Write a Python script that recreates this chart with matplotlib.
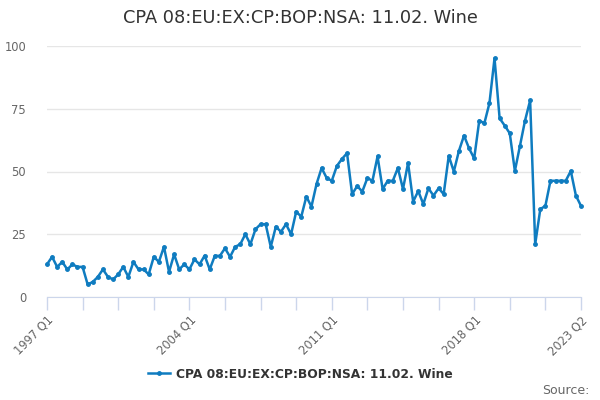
import matplotlib
matplotlib.use("Agg")
import matplotlib.pyplot as plt

# quarterly values, 1997 Q1 .. 2023 Q2
values = [13, 16, 12, 14, 11, 13, 12, 12, 5, 6, 8, 11, 8, 7, 9, 12,
          8, 14, 11, 11, 9, 16, 14, 20, 10, 17, 11, 13, 11, 15, 13, 16.5,
          11, 16.4, 16.4, 19.4, 16, 20, 21, 25, 21, 27, 29, 29, 20, 28,
          26, 29, 25, 34, 32, 40, 36, 45, 51.4, 47.4, 46.3, 52.2, 55, 57.3,
          41, 44.2, 42, 47.4, 46.3, 56, 43, 46.3, 46.3, 51.4, 43, 53.4,
          38, 42.2, 37, 43.3, 40.4, 43.3, 41, 56.2, 50, 58.2, 64.3, 59.2,
          55.2, 70.3, 69.2, 77.2, 95.1, 71.2, 68.3, 65.2, 50.2, 60.2, 70.3,
          78.3, 21.1, 35, 36.3, 46.3, 46.3, 46.3, 46.3, 50.2, 40.4, 36.3]

quarters = []
for y in range(1997, 2024):
    for q in range(1, 5):
        quarters.append(f"{y} Q{q}")
quarters = quarters[:len(values)]

title = "CPA 08:EU:EX:CP:BOP:NSA: 11.02. Wine"
y_ticks = [0, 25, 50, 75, 100]
label_idx = [0, 28, 56, 84, 105]

fig = plt.figure(figsize=(6, 4), dpi=100)
ax = fig.add_axes([0.0783, 0.2575, 0.89, 0.6275])

x = list(range(len(values)))
line, = ax.plot(x, values, color="#0f7cc0", lw=1.8, marker="o", ms=2.5,
                clip_on=False, label=title)

ax.set_xlim(0, len(values) - 1)
ax.set_ylim(0, 100)
ax.set_yticks(y_ticks)
ax.set_yticklabels([str(v) for v in y_ticks])
ax.grid(axis="y", color="#e6e6e6", lw=1)
ax.set_axisbelow(True)

ticks = list(range(0, len(values), 7))
if ticks[-1] != len(values) - 1:
    ticks.append(len(values) - 1)
ax.set_xticks(ticks)
ax.set_xticklabels([quarters[i] if i in label_idx else "" for i in ticks],
                   rotation=45, ha="right", rotation_mode="anchor")

for s in ["top", "right", "left"]:
    ax.spines[s].set_visible(False)
ax.spines["bottom"].set_color("#ccd6eb")
ax.tick_params(axis="x", colors="#ccd6eb", length=9, width=1, labelcolor="#666666",
               labelsize=8.3, pad=3)
ax.tick_params(axis="y", length=0, labelcolor="#666666", labelsize=8.3, pad=15)

fig.text(0.5, 0.955, title, ha="center", va="center", fontsize=12.8, color="#333333")

leg = fig.legend(handles=[line], loc="center", bbox_to_anchor=(0.5, 0.065),
                 frameon=False, handlelength=1.8, handletextpad=0.5,
                 prop={"weight": "bold", "size": 8.8})
for t in leg.get_texts():
    t.set_color("#333333")

fig.text(0.983, 0.025, "Source:", ha="right", va="center", fontsize=9, color="#666666")

fig.savefig("out.png", dpi=100)
